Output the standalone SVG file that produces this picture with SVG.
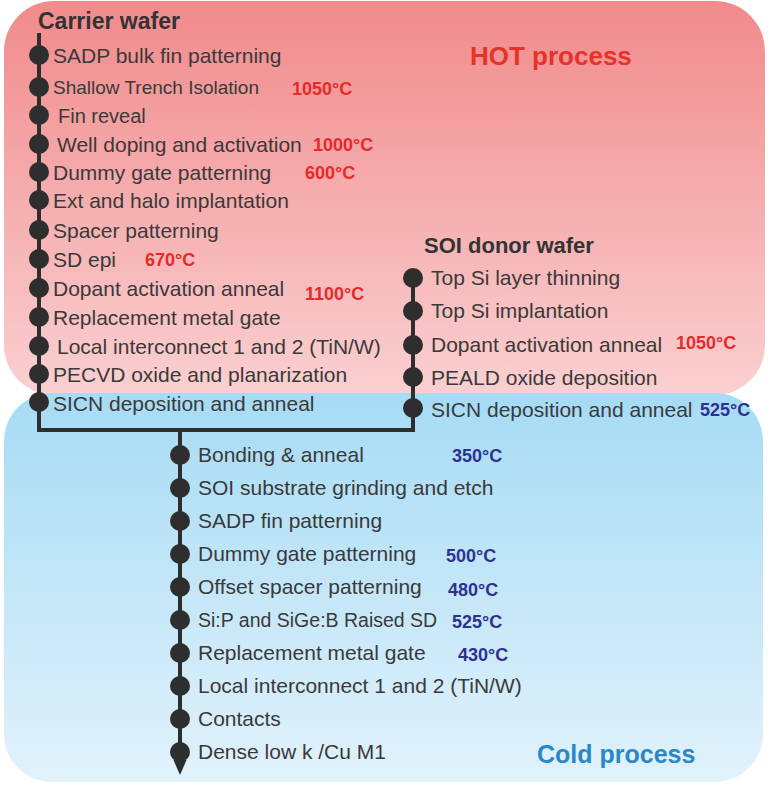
<svg xmlns="http://www.w3.org/2000/svg" width="768" height="786" viewBox="0 0 768 786">
<defs>
<linearGradient id="hotGrad" x1="0" y1="0" x2="0" y2="1">
<stop offset="0" stop-color="#f18a8b"/>
<stop offset="1" stop-color="#fad0d1"/>
</linearGradient>
<linearGradient id="coldGrad" x1="0" y1="0" x2="0" y2="1">
<stop offset="0" stop-color="#a6dbf5"/>
<stop offset="1" stop-color="#e1f2fb"/>
</linearGradient>
<style>
.t{font-family:"Liberation Sans",Arial,sans-serif;font-size:21px;fill:#3a3a3a}
.h{font-family:"Liberation Sans",Arial,sans-serif;font-size:22px;font-weight:bold;fill:#333333}
.r{font-family:"Liberation Sans",Arial,sans-serif;font-size:18px;font-weight:bold;fill:#e8292b}
.b{font-family:"Liberation Sans",Arial,sans-serif;font-size:18px;font-weight:bold;fill:#2e3192}
.dot{fill:#2e2e2e}
.ln{fill:none;stroke:#2e2e2e;stroke-width:4}
.ah{fill:#2e2e2e}
</style>
</defs>
<rect id="hot-region" x="4" y="1" width="761" height="394" rx="50" ry="50" fill="url(#hotGrad)"/>
<rect id="cold-region" x="4" y="393" width="759" height="389" rx="48" ry="48" fill="url(#coldGrad)"/>
<text class="h" x="470" y="65" style="font-size:26px;fill:#e5332a">HOT process</text>
<text class="h" x="537" y="763" style="font-size:25px;fill:#2b88c6">Cold process</text>
<g id="connectors">
<path class="ln" d="M39 33 V430 H413 V276"/>
<path class="ln" d="M180 430 V762"/>
<path class="ah" d="M173.5 760 L186.5 760 L180 775 Z"/>
</g>
<g id="carrier-wafer"><text class="h" x="38" y="29" style="font-size:23px">Carrier wafer</text></g>
<g id="c1"><circle class="dot" cx="39" cy="55" r="10"/><text class="t" x="53" y="63">SADP bulk fin patterning</text></g>
<g id="c2"><circle class="dot" cx="39" cy="87" r="10"/><text class="t" x="53" y="94" style="font-size:19px">Shallow Trench Isolation</text><text class="r" x="292" y="95">1050°C</text></g>
<g id="c3"><circle class="dot" cx="39" cy="115" r="10"/><text class="t" x="58" y="123" style="font-size:20px">Fin reveal</text></g>
<g id="c4"><circle class="dot" cx="39" cy="144" r="10"/><text class="t" x="57" y="152">Well doping and activation</text><text class="r" x="313" y="151">1000°C</text></g>
<g id="c5"><circle class="dot" cx="39" cy="172" r="10"/><text class="t" x="53" y="180">Dummy gate patterning</text><text class="r" x="305" y="179">600°C</text></g>
<g id="c6"><circle class="dot" cx="39" cy="200" r="10"/><text class="t" x="53" y="208">Ext and halo implantation</text></g>
<g id="c7"><circle class="dot" cx="39" cy="230" r="10"/><text class="t" x="53" y="238">Spacer patterning</text></g>
<g id="c8"><circle class="dot" cx="39" cy="259" r="10"/><text class="t" x="53" y="267">SD epi</text><text class="r" x="145" y="266">670°C</text></g>
<g id="c9"><circle class="dot" cx="39" cy="288" r="10"/><text class="t" x="53" y="296">Dopant activation anneal</text><text class="r" x="305" y="300">1100°C</text></g>
<g id="c10"><circle class="dot" cx="39" cy="317" r="10"/><text class="t" x="53" y="325">Replacement metal gate</text></g>
<g id="c11"><circle class="dot" cx="39" cy="346" r="10"/><text class="t" x="57" y="354">Local interconnect 1 and 2 (TiN/W)</text></g>
<g id="c12"><circle class="dot" cx="39" cy="374" r="10"/><text class="t" x="53" y="382">PECVD oxide and planarization</text></g>
<g id="c13"><circle class="dot" cx="39" cy="402" r="10"/><text class="t" x="53" y="411">SICN deposition and anneal</text></g>
<g id="soi-donor-wafer"><text class="h" x="424" y="253">SOI donor wafer</text></g>
<g id="s1"><circle class="dot" cx="413" cy="278" r="10"/><text class="t" x="431" y="285">Top Si layer thinning</text></g>
<g id="s2"><circle class="dot" cx="413" cy="311" r="10"/><text class="t" x="431" y="318">Top Si implantation</text></g>
<g id="s3"><circle class="dot" cx="413" cy="345" r="10"/><text class="t" x="431" y="352">Dopant activation anneal</text><text class="r" x="676" y="349">1050°C</text></g>
<g id="s4"><circle class="dot" cx="413" cy="377" r="10"/><text class="t" x="431" y="385">PEALD oxide deposition</text></g>
<g id="s5"><circle class="dot" cx="413" cy="408" r="10"/><text class="t" x="431" y="417">SICN deposition and anneal</text><text class="b" x="700" y="416">525°C</text></g>
<g id="d1"><circle class="dot" cx="180" cy="455" r="10"/><text class="t" x="198" y="462">Bonding &amp; anneal</text><text class="b" x="452" y="462">350°C</text></g>
<g id="d2"><circle class="dot" cx="180" cy="488" r="10"/><text class="t" x="198" y="495">SOI substrate grinding and etch</text></g>
<g id="d3"><circle class="dot" cx="180" cy="521" r="10"/><text class="t" x="198" y="528">SADP fin patterning</text></g>
<g id="d4"><circle class="dot" cx="180" cy="554" r="10"/><text class="t" x="198" y="561">Dummy gate patterning</text><text class="b" x="446" y="562">500°C</text></g>
<g id="d5"><circle class="dot" cx="180" cy="587" r="10"/><text class="t" x="198" y="594">Offset spacer patterning</text><text class="b" x="448" y="596">480°C</text></g>
<g id="d6"><circle class="dot" cx="180" cy="620" r="10"/><text class="t" x="198" y="627" style="font-size:19.5px">Si:P and SiGe:B Raised SD</text><text class="b" x="452" y="628">525°C</text></g>
<g id="d7"><circle class="dot" cx="180" cy="653" r="10"/><text class="t" x="198" y="660">Replacement metal gate</text><text class="b" x="458" y="661">430°C</text></g>
<g id="d8"><circle class="dot" cx="180" cy="686" r="10"/><text class="t" x="198" y="693">Local interconnect 1 and 2 (TiN/W)</text></g>
<g id="d9"><circle class="dot" cx="180" cy="719" r="10"/><text class="t" x="198" y="726">Contacts</text></g>
<g id="d10"><circle class="dot" cx="180" cy="752" r="10"/><text class="t" x="198" y="759">Dense low k /Cu M1</text></g>
</svg>
